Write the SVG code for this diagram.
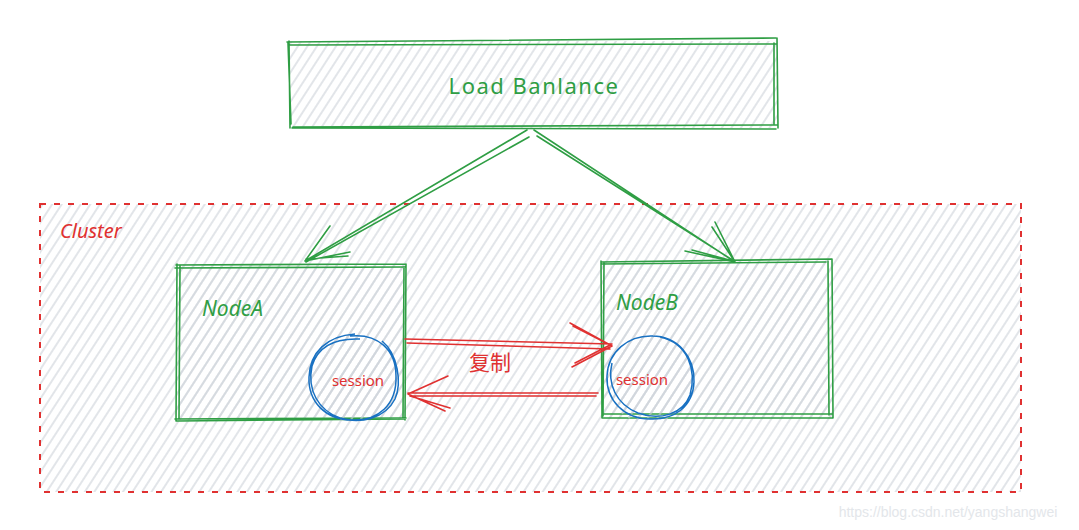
<svg xmlns="http://www.w3.org/2000/svg" width="1079" height="530" viewBox="0 0 1079 530">
<defs>
<pattern id="hatch" width="8" height="8" patternUnits="userSpaceOnUse" patternTransform="rotate(33)">
<line x1="3" y1="0" x2="3" y2="8" stroke="#ced4da" stroke-width="1.2"/>
</pattern>
<style>
.g{fill:none;stroke:#2f9e44;stroke-width:1.6;stroke-linecap:round}
.r{fill:none;stroke:#e03131;stroke-width:1.6;stroke-linecap:round}
.b{fill:none;stroke:#1971c2;stroke-width:1.5}
.tg{font-family:"Noto Sans","Liberation Sans",sans-serif;fill:#2f9e44}
.tr{font-family:"Noto Sans","Liberation Sans",sans-serif;fill:#e03131}
</style>
</defs>
<rect width="1079" height="530" fill="#ffffff"/>

<g id="cluster">
<rect x="40" y="204" width="981" height="288" fill="url(#hatch)"/>
<rect x="40" y="204" width="981" height="288" fill="none" stroke="#e03131" stroke-width="2" stroke-dasharray="6,8"/>
<text class="tr" x="60" y="238" font-size="20" font-style="italic">Cluster</text>
</g>

<g id="loadbalance">
<rect x="290" y="41" width="488" height="87" fill="url(#hatch)"/>
<path class="g" d="M287 42 L776 38 M290 45 L777 44 M289 41 L290 128 M288 43 L291 124 M777 38 L778 128 M774 43 L774 124 M293 127 L778 125 M292 128 L776 129"/>
<text class="tg" x="534" y="94" font-size="22" text-anchor="middle" letter-spacing="1.5">Load Banlance</text>
</g>

<g id="nodeA">
<rect x="176" y="265" width="230" height="155" fill="url(#hatch)"/>
<path class="g" d="M176 265 L406 264 M175 268 L405 267 M177 264 L176 421 M180 266 L179 418 M406 264 L405 420 M404 267 L403 417 M175 419 L406 418 M177 421 L404 419"/>
<text class="tg" x="202" y="316" font-size="21" font-style="italic">NodeA</text>
</g>

<g id="sessionA">
<circle cx="352" cy="378" r="44" fill="url(#hatch)"/>
<path class="b" d="M350 336 C378 333 396 350 396 376 C397 405 378 421 352 420 C326 420 308 402 309 377 C310 352 327 336 355 334 M382 341 C398 354 402 383 395 399 C385 419 360 424 340 418 C318 410 307 390 312 366 C318 346 336 338 360 339"/>
<text class="tr" x="358" y="386" font-size="15" text-anchor="middle">session</text>
</g>

<g id="nodeB">
<rect x="601" y="261" width="232" height="157" fill="url(#hatch)"/>
<path class="g" d="M601 262 L832 259 M602 264 L826 262 M601 261 L602 418 M604 262 L603 416 M832 259 L833 418 M828 261 L829 415 M603 414 L833 414 M602 418 L832 418"/>
<text class="tg" x="616" y="310" font-size="21" font-style="italic">NodeB</text>
</g>

<g id="sessionB">
<circle cx="650" cy="380" r="44" fill="url(#hatch)"/>
<path class="b" d="M652 336 C678 336 695 357 694 382 C693 407 674 420 650 419 C624 419 606 400 607 376 C608 352 628 335 653 336 M660 337 C688 343 697 370 690 395 C683 414 660 421 638 413 C616 404 607 384 612 363"/>
<text class="tr" x="642" y="385" font-size="15" text-anchor="middle">session</text>
</g>

<g id="connectors">
<path class="g" d="M527 130 L305 261 M529 137 L306 262 M305 261 L330 226 M305 261 L350 252 M306 259 L348 256"/>
<path class="g" d="M534 130 L735 262 M537 136 L734 261 M735 262 L715 222 M735 262 L712 227 M735 262 L685 251 M733 261 L692 250"/>
<path class="r" d="M405 339 L612 344 M407 343 L610 349 M612 346 L570 323 M612 346 L573 326 M612 346 L572 367 M610 345 L575 363"/>
<path class="r" d="M598 393 L408 393 M596 396 L410 396 M408 394 L448 376 M408 394 L445 411 M410 396 L450 408"/>
<text class="tr" x="490" y="370" font-size="21" text-anchor="middle" style="font-family:'Noto Sans CJK SC','Noto Sans',sans-serif">复制</text>
</g>

<text x="948" y="517" font-size="14" fill="#e3e6ea" text-anchor="middle" style="font-family:'Liberation Sans',sans-serif">https://blog.csdn.net/yangshangwei</text>
</svg>
